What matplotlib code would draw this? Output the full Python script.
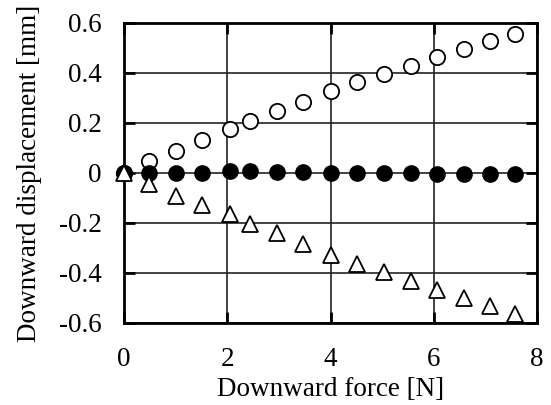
import numpy as np
import matplotlib.pyplot as plt

plt.rcParams['font.family'] = 'Liberation Serif'
plt.rcParams['font.size'] = 19.5

# Measured data
force = [0, 0.49, 1.01, 1.52, 2.05, 2.44, 2.96, 3.47, 4.0, 4.52, 5.04, 5.55, 6.07, 6.58, 7.09, 7.58]
disp_open = [0, 0.047, 0.087, 0.133, 0.176, 0.21, 0.25, 0.285, 0.327, 0.363, 0.397, 0.43, 0.464, 0.497, 0.528, 0.557]
disp_filled = [0, 0, 0, 0, 0.008, 0.008, 0.005, 0.003, 0, 0, 0, 0, -0.002, -0.003, -0.003, -0.003]
disp_tri = [0, -0.044, -0.09, -0.128, -0.165, -0.203, -0.24, -0.284, -0.327, -0.364, -0.395, -0.43, -0.467, -0.5, -0.533, -0.564]

fig = plt.figure(figsize=(5.51, 4.05), dpi=100)
ax = fig.add_axes([124/551, 82/405, 413/551, 300/405])

ax.plot(force, disp_open, 'o', ms=11, mfc='white', mec='black', mew=1.3, clip_on=False, zorder=3)
ax.plot(force, disp_filled, 'o', ms=11, mfc='black', mec='black', clip_on=False, zorder=4)
ax.plot(force, disp_tri, '^', ms=12, mfc='white', mec='black', mew=1.3, clip_on=False, zorder=5)

ax.set_xlim(0, 8)
ax.set_ylim(-0.6, 0.6)
ax.set_xticks([0, 2, 4, 6, 8])
ax.set_yticks([-0.6, -0.4, -0.2, 0, 0.2, 0.4, 0.6])
ax.set_yticklabels(['-0.6', '-0.4', '-0.2', '0', '0.2', '0.4', '0.6'])
ax.grid(True, color='#222222', lw=1.2)
ax.set_axisbelow(True)
ax.tick_params(direction='in', length=8, width=2, top=True, right=True)
ax.tick_params(axis='x', pad=17)
ax.tick_params(axis='y', pad=16)
for s in ax.spines.values():
    s.set_linewidth(2)

ax.set_xlabel('Downward force [N]', labelpad=4)
ax.set_ylabel('Downward displacement [mm]', labelpad=12)

fig.savefig('out.png', dpi=100)
